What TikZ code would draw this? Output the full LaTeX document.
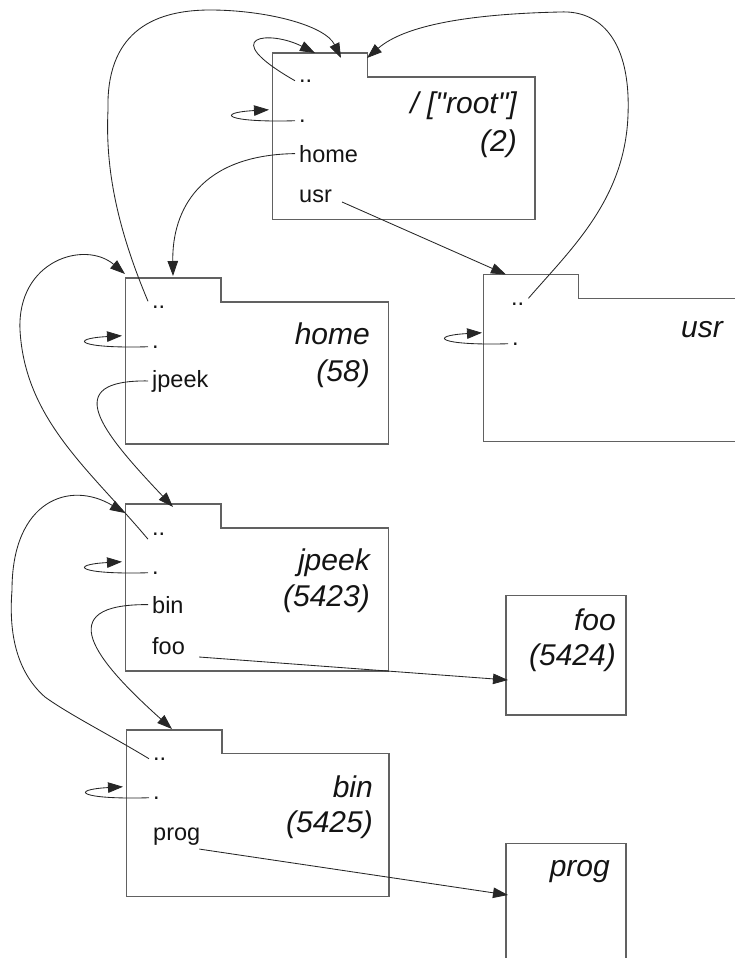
\documentclass[tikz,border=0pt]{standalone}
\usepackage{fontspec}
\setmainfont{Liberation Sans}[Ligatures=TeXOff]
\usetikzlibrary{arrows.meta,calc}
\newcommand\dotloop[2]{%
  \coordinate (#2) at ($(#1.west)+(-26,-11)$);
  \draw[lnk] (#1.west) .. controls ($(#1.west)+(-70,2)$) and ($(#1.west)+(-80,-8)$) .. (#2);}
\begin{document}
\begin{tikzpicture}[x=1pt,y=-1pt,
  fbox/.style={draw=black!62,line width=1.3pt,line join=miter},
  ent/.style={inner sep=4pt,anchor=base west,text=black!92,font=\fontsize{23.5}{28}\selectfont},
  ttl/.style={inner sep=0pt,anchor=base east,text=black!92,font=\fontsize{30}{36}\selectfont\itshape},
  lnk/.style={draw=black!85,line width=0.85pt,-{Triangle[length=15pt,width=10.5pt]}},
]
\useasboundingbox (0,0) rectangle (735,958);
\begin{scope}
\clip (0,0) rectangle (735,958);
% folders
\draw[fbox] (272.5,53) -- (367.5,53) -- (367.5,77) -- (535,77) -- (535,219.5) -- (272.5,219.5) -- cycle;
\draw[fbox] (125.5,278) -- (221,278) -- (221,302) -- (388.5,302) -- (388.5,444) -- (125.5,444) -- cycle;
\draw[fbox] (483.5,274.5) -- (578.5,274.5) -- (578.5,298.5) -- (745,298.5) -- (745,441.5) -- (483.5,441.5) -- cycle;
\draw[fbox] (125.5,504) -- (221,504) -- (221,528) -- (388.5,528) -- (388.5,671) -- (125.5,671) -- cycle;
\draw[fbox] (126.5,730) -- (222,730) -- (222,753.5) -- (389,753.5) -- (389,896.5) -- (126.5,896.5) -- cycle;
\draw[fbox] (506,595.5) rectangle (626,715);
\draw[fbox] (506,843.5) rectangle (626,975);
\end{scope}
% arrow targets
\coordinate (rootT1) at (315,53);
\coordinate (rootT2) at (341,58);
\coordinate (rootT3) at (367,58);
\coordinate (homeT1) at (125,274);
\coordinate (homeT2) at (173,276);
\coordinate (usrT) at (506,274.5);
\coordinate (jpT1) at (125,513);
\coordinate (jpT2) at (173,507);
\coordinate (binT) at (172,729);
\coordinate (fooT) at (508,680);
\coordinate (progT) at (508,895);
% root
\node[ent] (rdd) at (295,82) {..};
\node[ent] (rd) at (295,122) {.};
\node[ent] (rhome) at (295,162) {home};
\node[ent] (rusr) at (295,202) {usr};
\node[ttl] (rt1) at (517,113) {/ ["root"]};
\node[ttl] (rt2) at (517,151) {(2)};
% home
\node[ent] (hdd) at (148,308) {..};
\node[ent] (hd) at (148,348) {.};
\node[ent] (hjp) at (148,387) {jpeek};
\node[ttl] (ht1) at (370,344) {home};
\node[ttl] (ht2) at (370,381) {(58)};
% usr
\node[ent] (udd) at (507,305) {..};
\node[ent] (ud) at (508,345) {.};
\node[ttl] (ut1) at (723,337) {usr};
% jpeek
\node[ent] (jdd) at (148,535) {..};
\node[ent] (jd) at (148,574) {.};
\node[ent] (jbin) at (148,613) {bin};
\node[ent] (jfoo) at (148,654) {foo};
\node[ttl] (jt1) at (370,570) {jpeek};
\node[ttl] (jt2) at (370,606) {(5423)};
% foo
\node[ttl] (ft1) at (616,630) {foo};
\node[ttl] (ft2) at (616,665) {(5424)};
% bin
\node[ent] (bdd) at (149,760) {..};
\node[ent] (bd) at (149,799) {.};
\node[ent] (bprog) at (149,840) {prog};
\node[ttl] (bt1) at (373,797) {bin};
\node[ttl] (bt2) at (373,832) {(5425)};
% prog
\node[ttl] (pt1) at (610,876) {prog};
% self loops
\dotloop{rd}{rootL}
\dotloop{hd}{homeL}
\dotloop{ud}{usrL}
\dotloop{jd}{jpL}
\dotloop{bd}{binL}
% links
\draw[lnk] (rdd.west) .. controls (215,35) and (270,30) .. (rootT1);
\draw[lnk] (hdd.north west) .. controls (118,230) and (105,170) .. (108,110)
  .. controls (106,35) and (150,10) .. (210,10)
  .. controls (265,10) and (325,25) .. (rootT2);
\draw[lnk] (udd.north east) .. controls (570,250) and (625,200) .. (628,115)
  .. controls (631,40) and (600,10) .. (560,12)
  .. controls (470,14) and (405,25) .. (rootT3);
\draw[lnk] (rhome.west) .. controls (200,155) and (172,210) .. (homeT2);
\draw[lnk] ($(rusr.base east)+(6,0)$) -- (usrT);
\draw[lnk] (jdd.south west) .. controls (90,470) and (25,420) .. (20,330)
  .. controls (17,260) and (85,240) .. (homeT1);
\draw[lnk] (hjp.west) .. controls (60,380) and (100,430) .. (jpT2);
\draw[lnk] (jbin.west) .. controls (50,604) and (95,660) .. (binT);
\draw[lnk] (bdd.west) .. controls (110,735) and (70,715) .. (45,697)
  .. controls (20,675) and (8,640) .. (12,590)
  .. controls (12,500) and (70,480) .. (jpT1);
\draw[lnk] ($(jfoo.base east)+(10,3)$) -- (fooT);
\draw[lnk] ($(bprog.south east)+(-5,0)$) -- (progT);
\end{tikzpicture}
\end{document}
